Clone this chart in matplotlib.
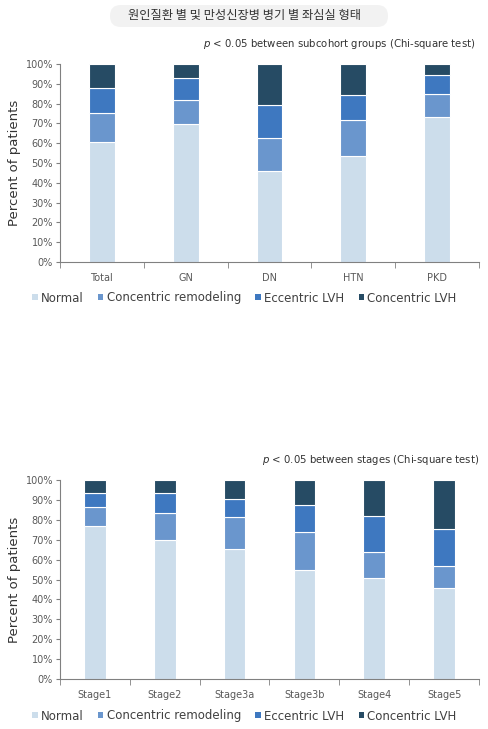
import numpy as np
import matplotlib
matplotlib.use("Agg")
import matplotlib.pyplot as plt
from matplotlib.patches import Patch, FancyBboxPatch

plt.rcParams['font.family'] = ['DejaVu Sans']

# --- data (percent of patients) ---
groups = ["Total", "GN", "DN", "HTN", "PKD"]
g_normal = [60.7, 69.8, 46.1, 53.7, 73.3]
g_conc_remod = [14.8, 12.1, 16.7, 18.1, 11.8]
g_ecc_lvh = [12.3, 11.2, 16.4, 12.3, 9.5]
g_conc_lvh = [12.2, 6.9, 20.8, 15.9, 5.4]

stages = ["Stage1", "Stage2", "Stage3a", "Stage3b", "Stage4", "Stage5"]
s_normal = [76.7, 69.8, 65.3, 54.9, 50.9, 45.6]
s_conc_remod = [9.6, 13.8, 16.3, 19.1, 12.8, 11.4]
s_ecc_lvh = [7.0, 9.7, 8.9, 13.3, 18.4, 18.4]
s_conc_lvh = [6.7, 6.7, 9.5, 12.7, 17.9, 24.6]

series_names = ["Normal", "Concentric remodeling", "Eccentric LVH", "Concentric LVH"]
colors = ["#CCDDEB", "#6A96CD", "#3E78C0", "#264B64"]
grey = "#595959"


def stacked(ax, cats, series):
    x = np.arange(len(cats))
    bottom = np.zeros(len(cats))
    for vals, c in zip(series, colors):
        ax.bar(x, vals, width=0.31, bottom=bottom, color=c,
               edgecolor="white", linewidth=0.8)
        bottom += np.array(vals)
    ax.set_xlim(-0.5, len(cats) - 0.5)
    ax.set_ylim(0, 100)
    ax.set_yticks(range(0, 101, 10))
    ax.set_yticklabels([f"{v}%" for v in range(0, 101, 10)])
    ax.set_xticks(x)
    ax.set_xticklabels(cats)
    ax.set_xticks(np.arange(len(cats) + 1) - 0.5, minor=True)
    ax.tick_params(axis="x", which="major", length=0, pad=8,
                   labelsize=7, labelcolor=grey)
    ax.tick_params(axis="x", which="minor", length=4, direction="out",
                   color="#808080")
    ax.tick_params(axis="y", length=3, color="#808080", labelsize=7,
                   labelcolor=grey, pad=2)
    for s in ["top", "right"]:
        ax.spines[s].set_visible(False)
    for s in ["left", "bottom"]:
        ax.spines[s].set_color("#808080")
        ax.spines[s].set_linewidth(0.8)
    ax.set_ylabel("Percent of patients", fontsize=9.5, color="#333333",
                  labelpad=3)


fig = plt.figure(figsize=(4.89, 7.29), dpi=100)

# title box (rounded grey pill)
W, H = 489, 729
fig.patches.append(FancyBboxPatch((110 / W, 1 - 27 / H), 278 / W, 22 / H,
                                  boxstyle="round,pad=0,rounding_size=0.022",
                                  transform=fig.transFigure, fc="#F2F2F2",
                                  ec="none", mutation_aspect=W / H))
fig.text(0.5, 1 - 16 / H, "원인질환 별 및 만성신장병 병기 별 좌심실 형태",
         ha="center", va="center", fontsize=8.8, color="#333333",
         family=["Noto Sans CJK KR", "DejaVu Sans"])

ax1 = fig.add_axes([60 / W, 1 - 262 / H, 419 / W, 198 / H])
stacked(ax1, groups, [g_normal, g_conc_remod, g_ecc_lvh, g_conc_lvh])
fig.text(475 / W, 1 - 44 / H,
         r"$\it{p}$ < 0.05 between subcohort groups (Chi-square test)",
         ha="right", va="center", fontsize=7.3, color="#333333")

ax2 = fig.add_axes([60 / W, 1 - 679 / H, 419 / W, 199 / H])
stacked(ax2, stages, [s_normal, s_conc_remod, s_ecc_lvh, s_conc_lvh])
fig.text(479 / W, 1 - 460 / H,
         r"$\it{p}$ < 0.05 between stages (Chi-square test)",
         ha="right", va="center", fontsize=7.3, color="#333333")

handles = [Patch(facecolor=c, edgecolor="none") for c in colors]
for y in [298, 716]:
    fig.legend(handles, series_names, ncol=4, frameon=False,
               loc="center", bbox_to_anchor=(0.5, 1 - y / H),
               fontsize=8.5, handlelength=0.45, handleheight=0.45,
               handletextpad=0.3, columnspacing=1.2, labelcolor="#404040")

fig.savefig("out.png", dpi=100)
